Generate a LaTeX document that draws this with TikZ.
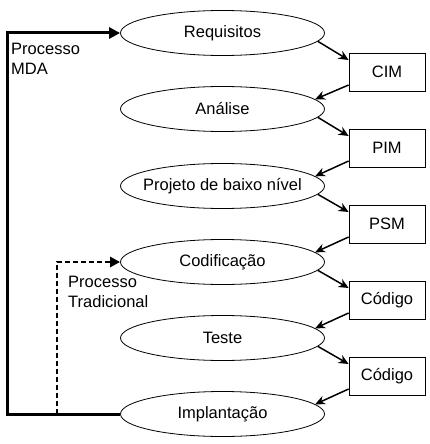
\documentclass[tikz,border=0pt]{standalone}
\usepackage{fontspec}
\setmainfont{Liberation Sans}
\usetikzlibrary{shapes.geometric,arrows.meta}
\begin{document}
\begin{tikzpicture}[x=1pt,y=-1pt,
  phase/.style={ellipse,draw,line width=0.8pt,minimum width=204pt,minimum height=45pt,inner xsep=-40pt,inner ysep=0pt,font=\fontsize{16.5}{19}\selectfont},
  artefact/.style={rectangle,draw,line width=0.8pt,minimum width=76pt,minimum height=38pt,inner sep=0pt,font=\fontsize{16.5}{19}\selectfont},
  flow/.style={line width=1.5pt,-{Stealth[length=10pt,width=9pt]}},
  mda/.style={line width=3pt,-{Triangle[length=11pt,width=11pt]}},
  trad/.style={line width=2.5pt,dash pattern=on 5pt off 3pt,-{Triangle[length=10pt,width=10pt]}},
  lbl/.style={anchor=west,align=left,inner sep=0pt,font=\fontsize{16.5}{20}\selectfont}
]
\useasboundingbox (0,0) rectangle (430,444);
\node[phase] (req) at (222.5,33) {Requisitos};
\node[phase] (ana) at (222.5,109) {Análise};
\node[phase] (proj) at (222.5,186) {Projeto de baixo nível};
\node[phase] (cod) at (222.5,262) {Codificação};
\node[phase] (tes) at (222.5,338) {Teste};
\node[phase] (imp) at (222.5,414) {Implantação};

\node[artefact] (cim) at (387,72) {CIM};
\node[artefact] (pim) at (387,148) {PIM};
\node[artefact] (psm) at (387,224) {PSM};
\node[artefact] (cod1) at (387,300) {Código};
\node[artefact] (cod2) at (387,376) {Código};

\draw[flow] (req.-5) -- ([yshift=12pt]cim.west);
\draw[flow] ([yshift=-13pt]cim.west) -- (ana.6);
\draw[flow] (ana.-5) -- ([yshift=12pt]pim.west);
\draw[flow] ([yshift=-13pt]pim.west) -- (proj.6);
\draw[flow] (proj.-5) -- ([yshift=12pt]psm.west);
\draw[flow] ([yshift=-13pt]psm.west) -- (cod.6);
\draw[flow] (cod.-5) -- ([yshift=12pt]cod1.west);
\draw[flow] ([yshift=-13pt]cod1.west) -- (tes.6);
\draw[flow] (tes.-5) -- ([yshift=12pt]cod2.west);
\draw[flow] ([yshift=-13pt]cod2.west) -- (imp.6);

\coordinate (mdacorner) at (7,414);
\coordinate (tradstart) at (57,414);
\draw[mda] (imp.west) -- (mdacorner) |- (req.west);
\draw[trad] (tradstart) |- (cod.west);

\node[lbl] (mdalbl) at (11,59) {Processo\\MDA};
\node[lbl] (tradlbl) at (68,292) {Processo\\Tradicional};
\end{tikzpicture}
\end{document}
